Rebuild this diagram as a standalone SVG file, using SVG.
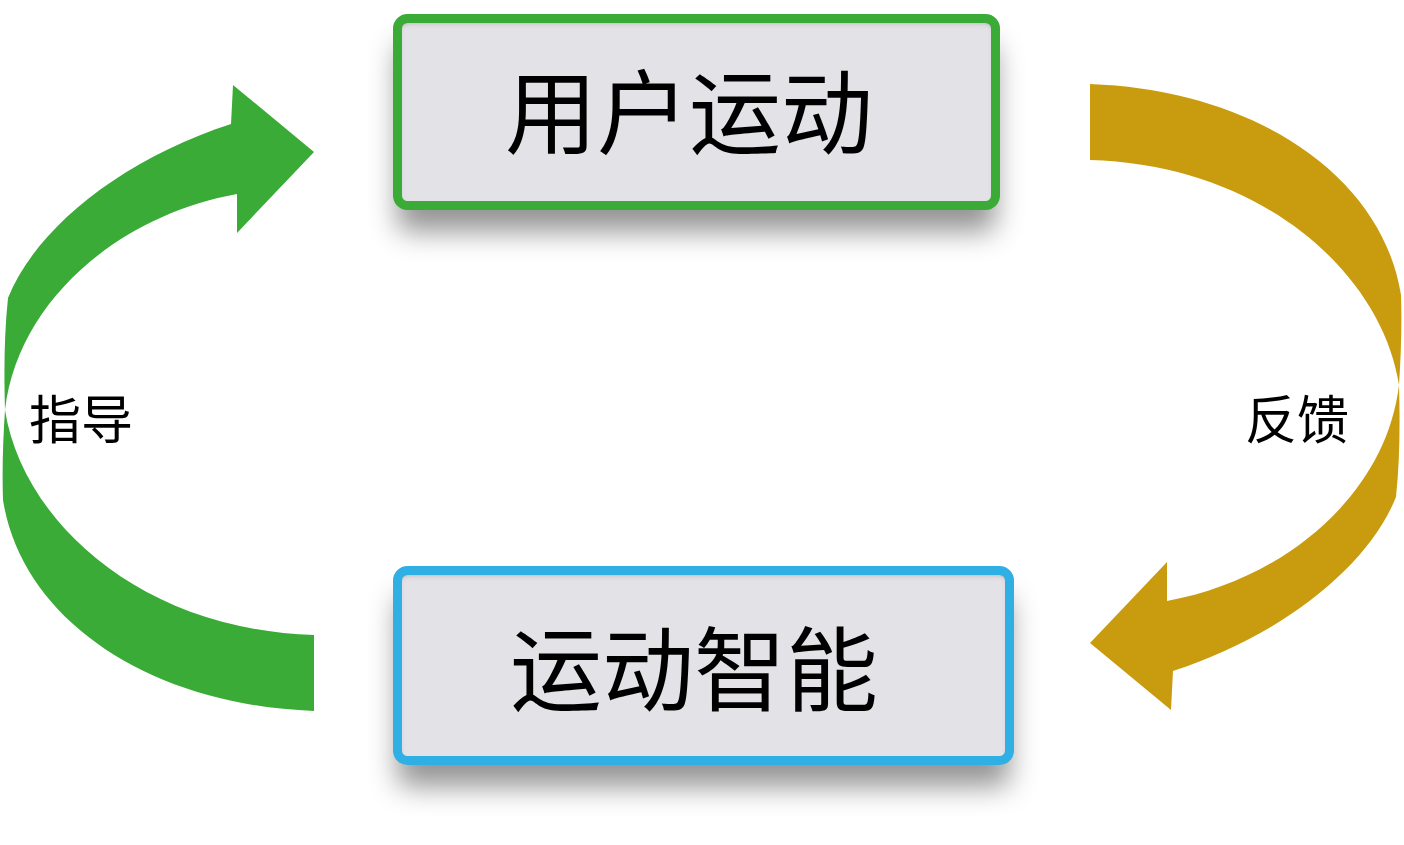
<svg xmlns="http://www.w3.org/2000/svg" width="1404" height="845" viewBox="0 0 1404 845">
<defs>
<style>
.lbl{font-family:"Noto Sans CJK SC","Noto Sans",sans-serif;fill:#000;text-anchor:middle}
.big{font-size:92px}
.small{font-size:52px}
.fill{fill:#e3e2e7}
</style>
<filter id="drop" x="-10%" y="-30%" width="120%" height="180%">
<feGaussianBlur in="SourceAlpha" stdDeviation="14"/>
<feOffset dy="26" result="o"/>
<feFlood flood-color="#000" flood-opacity="0.42"/>
<feComposite in2="o" operator="in"/>
</filter>
<filter id="inset" x="-5%" y="-10%" width="110%" height="120%">
<feComponentTransfer in="SourceAlpha" result="inv"><feFuncA type="table" tableValues="1 0"/></feComponentTransfer>
<feGaussianBlur in="inv" stdDeviation="3"/>
<feOffset dy="3" result="off"/>
<feFlood flood-color="#4a3a3a" flood-opacity="0.85"/>
<feComposite in2="off" operator="in"/>
<feComposite in2="SourceAlpha" operator="in" result="sh"/>
<feMerge><feMergeNode in="SourceGraphic"/><feMergeNode in="sh"/></feMerge>
</filter>
<path id="arrow" d="M314,711 C150,705 22,620 3,500 C2,470 3,440 5,410 C22,520 140,630 314,635 Z M5,410 C18,300 120,215 237,194 L237,233 L314,152 L233,85 L231,124 C120,160 35,230 8,298 C4,335 4,375 5,410 Z"/>
</defs>
<rect width="1404" height="845" fill="#fff"/>
<g id="connectors">
<g id="guide"><use href="#arrow" fill="#3aab37"/></g>
<g id="feedback"><use href="#arrow" fill="#c99c10" transform="rotate(180 702 397.5)"/></g>
<text class="lbl small" x="81" y="439">指导</text>
<text class="lbl small" x="1297" y="439">反馈</text>
</g>
<g id="node-user">
<rect x="397.5" y="18.5" width="598" height="187" rx="10" fill="#000" filter="url(#drop)"/>
<rect class="fill" x="397.5" y="18.5" width="598" height="187" rx="10" filter="url(#inset)"/>
<rect x="397.5" y="18.5" width="598" height="187" rx="10" fill="none" stroke="#3aab37" stroke-width="9"/>
<text class="lbl big" x="689" y="147">用户运动</text>
</g>
<g id="node-ai">
<rect x="397.5" y="570.5" width="612" height="190" rx="10" fill="#000" filter="url(#drop)"/>
<rect class="fill" x="397.5" y="570.5" width="612" height="190" rx="10" filter="url(#inset)"/>
<rect x="397.5" y="570.5" width="612" height="190" rx="10" fill="none" stroke="#2fafe4" stroke-width="9"/>
<text class="lbl big" x="694" y="704">运动智能</text>
</g>
</svg>
